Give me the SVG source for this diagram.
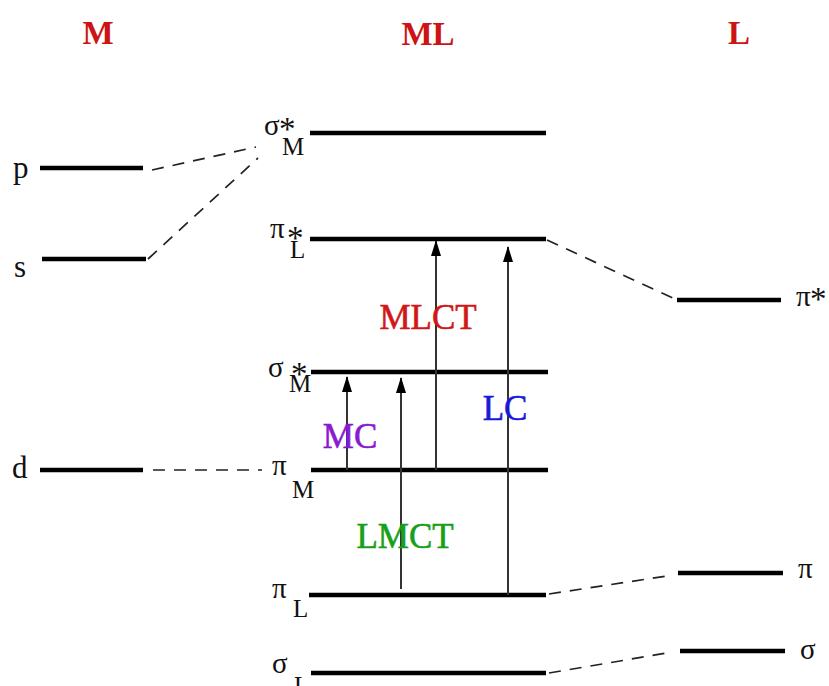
<svg xmlns="http://www.w3.org/2000/svg" width="829" height="686" viewBox="0 0 829 686">
  <defs>
    <!-- filled arrowhead, drawn along +x so orient="auto" points it along the line -->
    <marker id="arrow" viewBox="0 0 16 10" refX="15" refY="5" markerWidth="16" markerHeight="10" markerUnits="userSpaceOnUse" orient="auto">
      <path d="M0,0 L16,5 L0,10 Z" fill="#000"/>
    </marker>
  </defs>
  <style>
    text { font-family: "Liberation Serif", "DejaVu Serif", serif; fill: #111; }
    .head { font-size: 33px; font-weight: bold; fill: #cc1414; }
    .lbl { font-size: 31px; }
    .sym { font-size: 29px; }
    .star { font-size: 33px; }
    .sub { font-size: 25px; }
    .tr { font-size: 35px; stroke-width: 0.6; }
    .level { stroke: #000; stroke-width: 4.5; }
    .corr { stroke: #222; stroke-width: 1.7; stroke-dasharray: 12 9; fill: none; }
    .trans { stroke: #333; stroke-width: 2; }
  </style>
  <rect width="829" height="686" fill="#fff"/>

  <!-- column headers -->
  <text class="head" x="98" y="44" text-anchor="middle">M</text>
  <text class="head" x="428" y="45" text-anchor="middle">ML</text>
  <text class="head" x="739" y="44" text-anchor="middle">L</text>

  <!-- metal levels -->
  <g id="M-p"><line class="level" x1="40" y1="168" x2="143" y2="168"/><text class="lbl" x="13" y="178">p</text></g>
  <g id="M-s"><line class="level" x1="42" y1="259" x2="146" y2="259"/><text class="lbl" x="14" y="277">s</text></g>
  <g id="M-d"><line class="level" x1="40" y1="470" x2="143" y2="470"/><text class="lbl" x="12" y="478">d</text></g>

  <!-- complex levels -->
  <g id="ML-sigmaM-star-top"><line class="level" x1="310" y1="133" x2="546" y2="133"/>
    <text class="sym" x="264" y="135">σ<tspan class="star" x="279" y="140">*</tspan><tspan class="sub" x="282" y="155">M</tspan></text></g>
  <g id="ML-piL-star"><line class="level" x1="310" y1="239" x2="546" y2="239"/>
    <text class="sym" x="270" y="238">π<tspan class="star" x="287" y="249">*</tspan><tspan class="sub" x="290" y="258">L</tspan></text></g>
  <g id="ML-sigmaM-star"><line class="level" x1="311" y1="372" x2="548" y2="372"/>
    <text class="sym" x="268" y="377">σ<tspan class="star" x="291" y="385">*</tspan><tspan class="sub" x="289" y="392">M</tspan></text></g>
  <g id="ML-piM"><line class="level" x1="311" y1="470" x2="548" y2="470"/>
    <text class="sym" x="272" y="475">π<tspan class="sub" x="292" y="498">M</tspan></text></g>
  <g id="ML-piL"><line class="level" x1="309" y1="595" x2="546" y2="595"/>
    <text class="sym" x="272" y="598">π<tspan class="sub" x="293" y="617">L</tspan></text></g>
  <g id="ML-sigmaL"><line class="level" x1="311" y1="673" x2="546" y2="673"/>
    <text class="sym" x="272" y="673">σ<tspan class="sub" x="294" y="694">L</tspan></text></g>

  <!-- ligand levels -->
  <g id="L-pi-star"><line class="level" x1="677" y1="300" x2="781" y2="300"/><text class="sym" x="796" y="306">π<tspan class="star" x="810" y="310">*</tspan></text></g>
  <g id="L-pi"><line class="level" x1="678" y1="573" x2="783" y2="573"/><text class="sym" x="798" y="578">π</text></g>
  <g id="L-sigma"><line class="level" x1="680" y1="651" x2="785" y2="651"/><text class="sym" x="800" y="659">σ</text></g>

  <!-- correlation lines and transitions -->
  <g id="connectors">
    <line class="corr" x1="152" y1="170" x2="256" y2="147"/>
    <line class="corr" x1="148" y1="259" x2="258" y2="158"/>
    <line class="corr" x1="153" y1="470" x2="262" y2="470"/>
    <line class="corr" x1="547" y1="240" x2="677" y2="300"/>
    <line class="corr" x1="549" y1="594" x2="667" y2="576"/>
    <line class="corr" x1="549" y1="673" x2="667" y2="653"/>

    <line class="trans" x1="347" y1="470" x2="347" y2="377" marker-end="url(#arrow)"/>
    <line class="trans" x1="401" y1="589" x2="401" y2="378" marker-end="url(#arrow)"/>
    <line class="trans" x1="436" y1="470" x2="436" y2="241" marker-end="url(#arrow)"/>
    <line class="trans" x1="508" y1="595" x2="508" y2="247" marker-end="url(#arrow)"/>
  </g>

  <!-- transition labels -->
  <text class="tr" x="428" y="329" text-anchor="middle" style="fill:#d01818;stroke:#d01818">MLCT</text>
  <text class="tr" x="505" y="420" text-anchor="middle" style="fill:#1a1ad6;stroke:#1a1ad6">LC</text>
  <text class="tr" x="350" y="448" text-anchor="middle" style="fill:#8a1ad0;stroke:#8a1ad0">MC</text>
  <text class="tr" x="405" y="548" text-anchor="middle" style="fill:#18a018;stroke:#18a018">LMCT</text>
</svg>
